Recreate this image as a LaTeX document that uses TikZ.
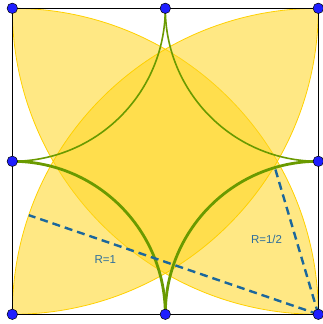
\documentclass[tikz,border=0pt]{standalone}
\usepackage{fontspec}
\setmainfont{Liberation Sans}
\definecolor{lensfill}{HTML}{FFD61F}
\definecolor{lensedge}{HTML}{FFD000}
\definecolor{arcgreen}{HTML}{6A9A00}
\definecolor{dashblue}{HTML}{1B679C}
\definecolor{labelblue}{HTML}{2E6E9C}
\definecolor{dotblue}{HTML}{1E1EFF}
\tikzset{
  lens/.style={fill=lensfill, fill opacity=0.55, draw=lensedge, line width=0.8pt},
  thinarc/.style={draw=arcgreen, line width=1.6pt},
  thickarc/.style={draw=arcgreen, line width=2.8pt},
  radius line/.style={draw=dashblue, line width=2.4pt, dash pattern=on 8pt off 5pt},
  rlabel/.style={text=labelblue, font=\fontsize{11.5}{13}\selectfont, inner sep=0pt},
  frame/.style={draw=black, line width=1.4pt},
  pt dot/.style={circle, fill=dotblue, draw=black, line width=0.5pt, minimum size=10.5pt, inner sep=0pt}
}
\begin{document}
\begin{tikzpicture}[x=306pt, y=306pt]
\useasboundingbox (-12.3pt,-9.7pt) rectangle (310.7pt,314.3pt);
\coordinate (BL) at (0,0);
\coordinate (BR) at (1,0);
\coordinate (TR) at (1,1);
\coordinate (TL) at (0,1);
\coordinate (MB) at (0.5,0);
\coordinate (MR) at (1,0.5);
\coordinate (MT) at (0.5,1);
\coordinate (ML) at (0,0.5);
% lenses
\path[lens] (TL) arc[start angle=90, end angle=0, radius=1] arc[start angle=270, end angle=180, radius=1] -- cycle;
\path[lens] (BL) arc[start angle=270, end angle=360, radius=1] arc[start angle=90, end angle=180, radius=1] -- cycle;
% green arcs
\draw[thinarc] (MT) arc[start angle=360, end angle=270, radius=0.5];
\draw[thinarc] (MT) arc[start angle=180, end angle=270, radius=0.5];
\draw[thickarc] (ML) arc[start angle=90, end angle=0, radius=0.5];
\draw[thickarc] (MB) arc[start angle=180, end angle=90, radius=0.5];
% radius lines
\coordinate (P1) at ([shift={(161.1:1)}]BR);
\coordinate (P2) at ([shift={(106.5:0.5)}]BR);
\draw[radius line] (BR) -- (P1);
\draw[radius line] (BR) -- (P2);
\node[rlabel] (L1) at (0.304,0.178) {R=1};
\node[rlabel] (L2) at (0.831,0.246) {R=1/2};
% frame
\draw[frame] (BL) rectangle (TR);
% dots
\foreach \p in {BL,BR,TR,TL,MB,MR,MT,ML}
  \node[pt dot] (d\p) at (\p) {};
\end{tikzpicture}
\end{document}
